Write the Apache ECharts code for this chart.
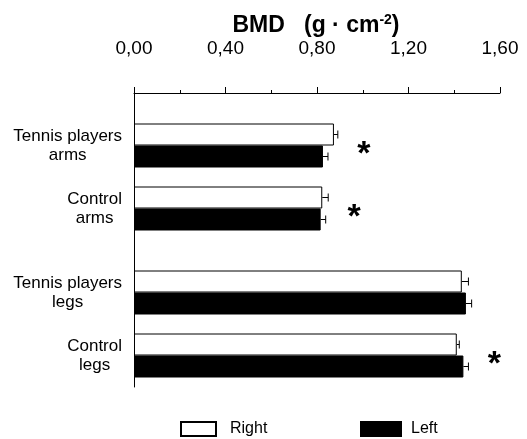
<!DOCTYPE html>
<html>
<head>
<meta charset="utf-8">
<script src="https://cdn.jsdelivr.net/npm/echarts@6/dist/echarts.min.js"></script>
<style>html,body{margin:0;padding:0;background:#fff}#c{width:527px;height:439px}</style>
</head>
<body>
<div id="c"></div>
<script>
const categories = [['Tennis players', 'arms'], ['Control', 'arms'], ['Tennis players', 'legs'], ['Control', 'legs']];
const rightValues = [0.874, 0.823, 1.433, 1.411];
const rightErrors = [0.017, 0.026, 0.029, 0.011];
const leftValues = [0.826, 0.816, 1.451, 1.440];
const leftErrors = [0.022, 0.022, 0.025, 0.022];
const significant = [true, true, false, true];
const seriesNames = ['Right', 'Left'];
const xTickValues = [0, 0.4, 0.8, 1.2, 1.6];

// layout: slot index of each group on a 14-slot category axis (spacing between arms and legs is wider)
const slots = [2, 5, 9, 12];
const nSlots = 14;
const FONT = 'Liberation Sans, Arial, sans-serif';

const slotLabels = new Array(nSlots).fill('');
const rightSlots = new Array(nSlots).fill('-');
const leftSlots = new Array(nSlots).fill('-');
slots.forEach((s, i) => {
  slotLabels[s] = categories[i].map(t => '{c|' + t + '}').join('\n');
  rightSlots[s] = rightValues[i];
  leftSlots[s] = leftValues[i];
});

function errorSeries(values, errors, shift) {
  return {
    type: 'custom',
    z: 5,
    silent: true,
    encode: {x: 0, y: 1},
    data: values.map((v, i) => [v, slots[i], errors[i]]),
    renderItem: function (params, api) {
      const v = api.value(0), cat = api.value(1), e = api.value(2);
      const p0 = api.coord([v, cat]);
      const p1 = api.coord([v + e, cat]);
      const y = p0[1] + shift;
      const st = {stroke: '#000', lineWidth: 1};
      return {type: 'group', children: [
        {type: 'line', shape: {x1: p0[0], y1: y, x2: p1[0], y2: y}, style: st},
        {type: 'line', shape: {x1: p1[0], y1: y - 4, x2: p1[0], y2: y + 4}, style: st}
      ]};
    }
  };
}

const starData = [];
slots.forEach((s, i) => {
  if (significant[i]) {
    starData.push([Math.max(rightValues[i] + rightErrors[i], leftValues[i] + leftErrors[i]), s]);
  }
});

const chart = echarts.init(document.getElementById('c'), null, {renderer: 'canvas'});
chart.setOption({
  animation: false,
  backgroundColor: '#fff',
  textStyle: {fontFamily: FONT},
  title: {
    text: '{b|BMD   (g · cm}{s|-2}{b|)}',
    left: 316,
    textAlign: 'center',
    top: 13,
    padding: 0,
    textStyle: {
      rich: {
        b: {fontFamily: FONT, fontSize: 23, fontWeight: 'bold', color: '#000'},
        s: {fontFamily: FONT, fontSize: 14, fontWeight: 'bold', color: '#000', verticalAlign: 'top', padding: [0, 0, 12, 0]}
      }
    }
  },
  legend: [
    {data: [seriesNames[0]], left: 180, top: 421, padding: 0, itemWidth: 35, itemHeight: 14, itemGap: 0, icon: 'rect',
     textStyle: {fontFamily: FONT, fontSize: 16, color: '#000', padding: [0, 0, 0, 9]}},
    {data: [seriesNames[1]], left: 360, top: 421, padding: 0, itemWidth: 40, itemHeight: 14, itemGap: 0, icon: 'rect',
     textStyle: {fontFamily: FONT, fontSize: 16, color: '#000', padding: [0, 0, 0, 5]}}
  ],
  grid: {left: 134, right: 27, top: 93, height: 294, containLabel: false},
  xAxis: {
    type: 'value',
    position: 'top',
    min: xTickValues[0],
    max: xTickValues[xTickValues.length - 1],
    interval: xTickValues[1] - xTickValues[0],
    axisLine: {show: true, lineStyle: {color: '#000', width: 1}},
    axisTick: {show: true, inside: false, length: 6, lineStyle: {color: '#000'}},
    minorTick: {show: true, splitNumber: 2, length: 3, lineStyle: {color: '#000'}},
    splitLine: {show: false},
    axisLabel: {
      margin: 35, fontFamily: FONT, fontSize: 19, color: '#000',
      formatter: v => v.toFixed(2).replace('.', ',')
    }
  },
  yAxis: {
    type: 'category',
    inverse: true,
    data: slotLabels,
    axisLine: {show: true, lineStyle: {color: '#000', width: 1}},
    axisTick: {show: false},
    axisLabel: {
      interval: 0, margin: 12, align: 'right',
      rich: {c: {align: 'center', fontFamily: FONT, fontSize: 17, lineHeight: 19, color: '#000'}}
    }
  },
  series: [
    {name: seriesNames[0], type: 'bar', data: rightSlots, barWidth: 22, barGap: '0%',
     itemStyle: {color: '#fff', borderColor: '#000', borderWidth: 1}},
    {name: seriesNames[1], type: 'bar', data: leftSlots, barWidth: 22, barGap: '0%',
     itemStyle: {color: '#000', borderColor: '#000', borderWidth: 1}},
    errorSeries(rightValues, rightErrors, -11),
    errorSeries(leftValues, leftErrors, 11),
    {
      type: 'custom', silent: true, z: 6, encode: {x: 0, y: 1}, data: starData,
      renderItem: function (params, api) {
        const p = api.coord([api.value(0), api.value(1)]);
        return {type: 'text', x: p[0] + 26, y: p[1] + 9,
          style: {text: '*', fontFamily: FONT, fontSize: 34, fontWeight: 'bold', fill: '#000', align: 'center', verticalAlign: 'middle'}};
      }
    }
  ]
});
</script>
</body>
</html>
